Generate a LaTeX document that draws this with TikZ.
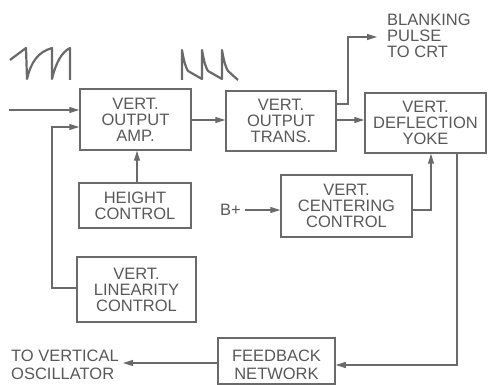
\documentclass[tikz,border=0pt]{standalone}
\usepackage{fontspec}
\setmainfont{Liberation Sans}
\usetikzlibrary{arrows.meta}
\definecolor{ln}{HTML}{6A6A6A}
\definecolor{tx}{HTML}{585858}
\begin{document}
\begin{tikzpicture}[x=1pt,y=-1pt,
  blk/.style={draw=ln,line width=1.5pt,inner sep=0pt,text=tx,align=center,
    font=\fontsize{16.5}{16}\selectfont},
  wire/.style={draw=ln,line width=1.4pt},
  arr/.style={wire,-{Triangle[length=10pt,width=6pt]}},
  lbl/.style={text=tx,inner sep=0pt,font=\fontsize{16.5}{16}\selectfont},
  wave/.style={draw=ln,line width=2.2pt,line join=round}]
\useasboundingbox (0,0) rectangle (488,385);
% boxes
\node[blk,minimum width=111pt,minimum height=61pt] (amp) at (135.5,119.5) {VERT.\\OUTPUT\\AMP.};
\node[blk,minimum width=110pt,minimum height=60pt] (trans) at (281,121) {VERT.\\OUTPUT\\TRANS.};
\node[blk,minimum width=121pt,minimum height=60pt] (yoke) at (425.5,123) {VERT.\\DEFLECTION\\YOKE};
\node[blk,minimum width=112pt,minimum height=45pt] (height) at (135,205.5) {HEIGHT\\CONTROL};
\node[blk,minimum width=131pt,minimum height=62pt] (cent) at (346.5,206) {VERT.\\CENTERING\\CONTROL};
\node[blk,minimum width=119pt,minimum height=65pt] (lin) at (136.5,289.5) {VERT.\\LINEARITY\\CONTROL};
\node[draw=ln,line width=1.5pt,minimum width=117pt,minimum height=46pt,inner sep=0pt] (fb) at (276.5,361) {};
\node[lbl,align=center,font=\fontsize{16.5}{18}\selectfont] (fbt) at (276.5,365) {FEEDBACK\\NETWORK};
% labels
\node[lbl,align=left,anchor=west] (blank) at (387,36) {BLANKING\\PULSE\\TO CRT};
\node[lbl,align=left,anchor=east,font=\fontsize{16.5}{18}\selectfont] (osc) at (119,365) {TO VERTICAL\\OSCILLATOR};
\node[lbl,anchor=east] (bplus) at (241,210) {B+};
% coordinates
\coordinate (in) at (9,110);
\coordinate (linc) at (52,288);
\coordinate (blk1) at (348,104);
\coordinate (blk2) at (348,37);
\coordinate (blk3) at (377,37);
\coordinate (cc) at (431,210);
\coordinate (fbc) at (457,365);
% connectors
\draw[arr] (in) -- (amp.west |- in);
\draw[arr] (lin.west |- linc) -- (linc) -- (linc |- 0,127) -- (amp.west |- 0,127);
\draw[arr] (height.north -| 137,0) -- (amp.south -| 137,0);
\draw[arr] (amp.east |- 0,120) -- (trans.west |- 0,120);
\draw[arr] (trans.east |- 0,120) -- (yoke.west |- 0,120);
\draw[arr] (trans.east |- blk1) -- (blk1) -- (blk2) -- (blk3);
\draw[arr] (245,210) -- (cent.west |- 0,210);
\draw[arr] (cent.east |- cc) -- (cc) -- (cc |- yoke.south);
\draw[arr] (yoke.south -| fbc) -- (fbc) -- (fb.east |- fbc);
\draw[arr] (fb.west |- 0,363) -- (123,363);
% waveforms
\draw[wave] (10,60) -- (26,48) -- (27,79) .. controls (31,62) and (38,52) .. (52,48) -- (52,79)
  .. controls (56,62) and (62,52) .. (70,48) -- (70,80);
\draw[wave] (182,80) -- (182,50) .. controls (184,62) and (186,68) .. (188,71) -- (202,79) -- (202,50)
  .. controls (204,62) and (206,68) .. (208,71) -- (222,79) -- (222,50)
  .. controls (224,62) and (226,68) .. (228,71) -- (238,80);
\end{tikzpicture}
\end{document}
